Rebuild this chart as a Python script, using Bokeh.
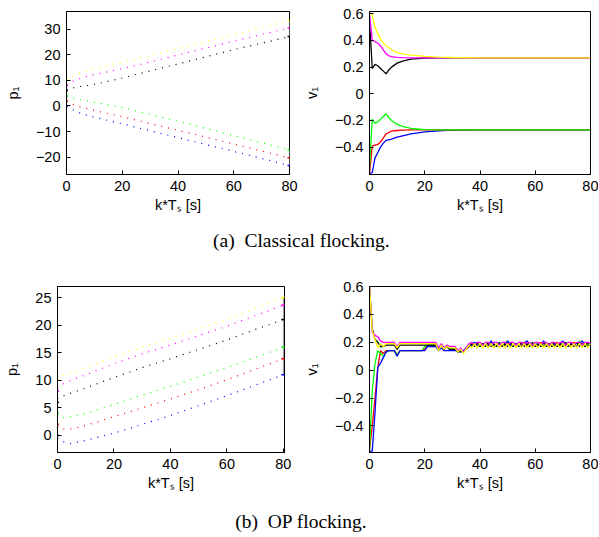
from bokeh.plotting import figure
from bokeh.models import Range1d, FixedTicker
from bokeh.layouts import column, row
from bokeh.embed import file_html
from bokeh.resources import INLINE
from bokeh.core.properties import value

# ---------------- data ----------------
agent_names = ["yellow", "magenta", "black", "green", "red", "blue"]
agent_colors = ["#ffff00", "#ff00ff", "#000000", "#00ff00", "#ff0000", "#0000ff"]
x_ticks = [0, 20, 40, 60, 80]
x_tick_labels = ["0", "20", "40", "60", "80"]
initial_pos = [10, 8, 6, 4, 2, 0]

# (a) Classical flocking: positions p1
t_pos_a = [0, 1, 5, 10, 20, 30, 40, 50, 60, 70, 80]
pos_a = {
    "yellow":  [10.2, 10.8, 12.9, 14.5, 17.1, 19.7, 22.4, 25.1, 27.8, 30.6, 33.4],
    "magenta": [8.3, 9.1, 10.8, 12.3, 14.5, 17.2, 19.9, 22.6, 25.3, 27.9, 30.5],
    "black":   [6.4, 6.8, 7.6, 8.4, 10.9, 13.7, 16.4, 19.2, 22.0, 24.5, 27.1],
    "green":   [3.6, 3.2, 2.4, 1.4, -0.6, -3.3, -6.0, -8.8, -11.6, -14.4, -17.2],
    "red":     [1.7, 1.1, -0.4, -1.8, -4.2, -6.9, -9.5, -12.2, -14.9, -17.6, -20.3],
    "blue":    [-0.3, -0.9, -2.9, -4.4, -7.0, -9.7, -12.4, -15.1, -17.8, -20.5, -23.3],
}
pos_a_yticks = [-20, -10, 0, 10, 20, 30]
pos_a_ylabels = ["\u221220", "\u221210", "0", "10", "20", "30"]

# (a) Classical flocking: velocities v1
t_vel_a = [0, 1, 2, 3, 4, 5, 6, 7, 8, 10, 12, 15, 20, 25, 30, 40, 80]
vel_a = {
    "yellow":  [0.60, 0.59, 0.50, 0.45, 0.41, 0.38, 0.36, 0.345, 0.33, 0.31, 0.30, 0.29, 0.28, 0.275, 0.272, 0.27, 0.27],
    "magenta": [0.60, 0.40, 0.39, 0.38, 0.36, 0.33, 0.30, 0.285, 0.278, 0.273, 0.271, 0.27, 0.27, 0.27, 0.27, 0.27, 0.27],
    "black":   [0.55, 0.19, 0.22, 0.21, 0.19, 0.17, 0.15, 0.18, 0.20, 0.23, 0.245, 0.26, 0.268, 0.27, 0.27, 0.27, 0.27],
    "green":   [-0.55, -0.19, -0.22, -0.21, -0.19, -0.17, -0.15, -0.18, -0.20, -0.23, -0.245, -0.26, -0.268, -0.27, -0.27, -0.27, -0.27],
    "red":     [-0.60, -0.39, -0.385, -0.38, -0.36, -0.33, -0.30, -0.29, -0.28, -0.275, -0.272, -0.27, -0.27, -0.27, -0.27, -0.27, -0.27],
    "blue":    [-0.60, -0.59, -0.48, -0.44, -0.40, -0.37, -0.35, -0.345, -0.34, -0.325, -0.315, -0.30, -0.285, -0.278, -0.273, -0.27, -0.27],
}
vel_yticks = [-0.4, -0.2, 0, 0.2, 0.4, 0.6]
vel_ylabels = ["\u22120.4", "\u22120.2", "0", "0.2", "0.4", "0.6"]

# (b) OP flocking: positions p1
t_pos_b = [0, 1, 5, 10, 20, 30, 40, 50, 60, 70, 80]
pos_b = {
    "yellow":  [10.2, 10.7, 11.3, 12.3, 14.2, 16.0, 17.6, 19.3, 21.0, 23.0, 25.0],
    "magenta": [8.6, 9.1, 10.0, 11.0, 13.0, 14.8, 16.4, 18.1, 19.8, 21.7, 23.6],
    "black":   [6.6, 7.0, 7.7, 8.6, 10.5, 12.3, 13.9, 15.6, 17.3, 19.2, 21.0],
    "green":   [3.8, 3.2, 3.4, 4.0, 5.6, 7.3, 8.9, 10.6, 12.3, 14.1, 16.0],
    "red":     [1.6, 1.1, 1.2, 1.8, 3.4, 5.0, 6.6, 8.3, 10.1, 12.0, 13.9],
    "blue":    [-0.5, -1.0, -1.5, -0.9, 0.4, 2.0, 3.6, 5.4, 7.2, 9.1, 11.0],
}
pos_b_yticks = [0, 5, 10, 15, 20, 25]
pos_b_ylabels = ["0", "5", "10", "15", "20", "25"]

# (b) OP flocking: velocities v1 (one sample per second)
t_vel_b = [0, 1, 2, 3, 4, 5, 6, 7, 8, 9, 10, 11, 12, 13, 14, 15, 16, 17, 18, 19, 20,
           21, 22, 23, 24, 25, 26, 27, 28, 29, 30, 31, 32, 33, 34, 35, 36, 37, 38, 39, 40,
           41, 42, 43, 44, 45, 46, 47, 48, 49, 50, 51, 52, 53, 54, 55, 56, 57, 58, 59, 60,
           61, 62, 63, 64, 65, 66, 67, 68, 69, 70, 71, 72, 73, 74, 75, 76, 77, 78, 79, 80]
vel_b = {
    "yellow": [0.60, 0.28, 0.22, 0.16, 0.19, 0.17, 0.19, 0.19, 0.19, 0.19, 0.16,
               0.19, 0.19, 0.19, 0.19, 0.19, 0.19, 0.19, 0.19, 0.19, 0.19,
               0.19, 0.19, 0.19, 0.19, 0.14, 0.18, 0.15, 0.17, 0.16, 0.16,
               0.16, 0.13, 0.15, 0.12, 0.15, 0.18, 0.16, 0.19, 0.16, 0.19,
               0.16, 0.19, 0.16, 0.19, 0.16, 0.19, 0.16, 0.19, 0.16, 0.19,
               0.16, 0.19, 0.16, 0.19, 0.16, 0.19, 0.16, 0.19, 0.16, 0.19,
               0.16, 0.19, 0.16, 0.19, 0.16, 0.19, 0.16, 0.19, 0.16, 0.19,
               0.16, 0.19, 0.16, 0.19, 0.16, 0.19, 0.16, 0.19, 0.16, 0.19],
    "magenta": [0.60, 0.27, 0.25, 0.24, 0.21, 0.20, 0.20, 0.20, 0.20, 0.20, 0.17,
                0.20, 0.20, 0.20, 0.20, 0.20, 0.20, 0.20, 0.20, 0.20, 0.20,
                0.20, 0.20, 0.20, 0.20, 0.16, 0.19, 0.16, 0.18, 0.17, 0.17,
                0.17, 0.14, 0.16, 0.13, 0.16, 0.19, 0.20, 0.18, 0.20, 0.20,
                0.18, 0.20, 0.20, 0.18, 0.20, 0.20, 0.18, 0.20, 0.20, 0.18,
                0.20, 0.20, 0.18, 0.20, 0.20, 0.18, 0.20, 0.20, 0.18, 0.20,
                0.20, 0.18, 0.20, 0.20, 0.18, 0.20, 0.20, 0.18, 0.20, 0.20,
                0.18, 0.20, 0.20, 0.18, 0.20, 0.20, 0.18, 0.20, 0.20, 0.19],
    "black": [0.60, 0.30, 0.22, 0.20, 0.17, 0.17, 0.18, 0.18, 0.18, 0.18, 0.15,
              0.18, 0.18, 0.18, 0.18, 0.18, 0.18, 0.18, 0.18, 0.18, 0.18,
              0.18, 0.18, 0.18, 0.18, 0.15, 0.18, 0.15, 0.17, 0.15, 0.15,
              0.15, 0.13, 0.14, 0.13, 0.15, 0.17, 0.19, 0.17, 0.20, 0.17,
              0.19, 0.17, 0.20, 0.17, 0.19, 0.17, 0.20, 0.17, 0.19, 0.17,
              0.20, 0.17, 0.19, 0.17, 0.20, 0.17, 0.19, 0.17, 0.20, 0.17,
              0.19, 0.17, 0.20, 0.17, 0.19, 0.17, 0.20, 0.17, 0.19, 0.17,
              0.20, 0.17, 0.19, 0.17, 0.20, 0.17, 0.19, 0.17, 0.20, 0.18],
    "green": [-0.57, -0.15, 0.05, 0.14, 0.12, 0.10, 0.13, 0.14, 0.14, 0.14, 0.11,
              0.14, 0.14, 0.14, 0.14, 0.14, 0.14, 0.14, 0.14, 0.14, 0.17,
              0.18, 0.18, 0.18, 0.18, 0.15, 0.18, 0.16, 0.18, 0.15, 0.15,
              0.15, 0.13, 0.15, 0.13, 0.16, 0.18, 0.17, 0.19, 0.18, 0.17,
              0.19, 0.18, 0.17, 0.19, 0.18, 0.17, 0.19, 0.18, 0.19, 0.21,
              0.18, 0.17, 0.19, 0.18, 0.17, 0.19, 0.21, 0.18, 0.17, 0.19,
              0.18, 0.17, 0.19, 0.18, 0.17, 0.19, 0.18, 0.17, 0.19, 0.20,
              0.18, 0.17, 0.19, 0.18, 0.17, 0.21, 0.18, 0.17, 0.19, 0.18],
    "red": [-0.57, -0.40, -0.20, 0.02, 0.14, 0.12, 0.14, 0.14, 0.14, 0.14, 0.11,
            0.14, 0.14, 0.14, 0.14, 0.14, 0.14, 0.14, 0.14, 0.14, 0.15,
            0.18, 0.18, 0.18, 0.18, 0.15, 0.18, 0.15, 0.17, 0.15, 0.15,
            0.15, 0.13, 0.14, 0.13, 0.15, 0.17, 0.18, 0.19, 0.17, 0.18,
            0.19, 0.17, 0.18, 0.20, 0.17, 0.18, 0.19, 0.17, 0.18, 0.20,
            0.17, 0.18, 0.19, 0.17, 0.18, 0.20, 0.17, 0.18, 0.19, 0.17,
            0.18, 0.20, 0.17, 0.18, 0.19, 0.17, 0.18, 0.20, 0.17, 0.18,
            0.19, 0.17, 0.18, 0.20, 0.17, 0.18, 0.19, 0.17, 0.18, 0.19],
    "blue": [-0.58, -0.58, -0.30, 0.02, 0.05, 0.09, 0.13, 0.14, 0.14, 0.14, 0.10,
             0.14, 0.14, 0.14, 0.14, 0.14, 0.14, 0.14, 0.14, 0.14, 0.14,
             0.17, 0.17, 0.17, 0.17, 0.14, 0.16, 0.14, 0.14, 0.14, 0.14,
             0.14, 0.14, 0.13, 0.14, 0.16, 0.17, 0.18, 0.20, 0.18, 0.17,
             0.19, 0.18, 0.17, 0.21, 0.18, 0.17, 0.19, 0.18, 0.18, 0.21,
             0.18, 0.17, 0.19, 0.18, 0.17, 0.19, 0.21, 0.18, 0.17, 0.19,
             0.18, 0.17, 0.21, 0.18, 0.17, 0.19, 0.18, 0.17, 0.19, 0.21,
             0.18, 0.17, 0.19, 0.18, 0.17, 0.19, 0.21, 0.18, 0.17, 0.19],
}

caption_a = "(a)\u00a0 Classical flocking."
caption_b = "(b)\u00a0 OP flocking."

# ---------------- styling helpers ----------------
SANS = "Liberation Sans"
SERIF = "Liberation Serif"
FS = "14.5px"


def make_panel(width, height, xr, yr, yticks, ylabels, ylabel, bl, br, bt, bb):
    p = figure(width=width, height=height, x_range=Range1d(*xr), y_range=Range1d(*yr),
               output_backend="svg", toolbar_location=None,
               min_border_left=bl, min_border_right=br, min_border_top=bt, min_border_bottom=bb)
    p.xgrid.visible = False
    p.ygrid.visible = False
    p.outline_line_color = "black"
    p.outline_line_alpha = 1
    p.outline_line_width = 1
    p.background_fill_color = "white"
    p.border_fill_color = "white"
    p.xaxis.ticker = FixedTicker(ticks=x_ticks)
    p.xaxis.major_label_overrides = dict(zip(x_ticks, x_tick_labels))
    p.yaxis.ticker = FixedTicker(ticks=yticks)
    p.yaxis.major_label_overrides = dict(zip(yticks, ylabels))
    p.xaxis.axis_label = "k*T\u209b [s]"
    p.yaxis.axis_label = ylabel
    for ax in (p.xaxis[0], p.yaxis[0]):
        ax.major_tick_in = 4
        ax.major_tick_out = 0
        ax.minor_tick_line_color = None
        ax.axis_line_color = "black"
        ax.major_tick_line_color = "black"
        ax.major_label_text_font = SANS
        ax.major_label_text_font_size = FS
        ax.major_label_text_color = "black"
        ax.axis_label_text_font = SANS
        ax.axis_label_text_font_size = FS
        ax.axis_label_text_font_style = "normal"
        ax.axis_label_text_color = "black"
    p.xaxis.major_label_standoff = 6
    p.xaxis.axis_label_standoff = 3
    p.yaxis.major_label_standoff = 6
    p.yaxis.axis_label_standoff = 12
    return p


def draw_positions(p, t, pos, end_groups):
    for name, col in zip(agent_names, agent_colors):
        p.line(t, pos[name], line_color=col, line_width=1.2, line_dash="1 6")
    for (lo, hi) in end_groups:
        p.line([t[-1], t[-1]], [pos[lo][-1], pos[hi][-1]], line_color="#999999", line_width=1)
    p.scatter([t[0]] * len(initial_pos), initial_pos, marker="dash", size=3,
              line_color=agent_colors, line_width=1.5)
    p.scatter([t[-1]] * len(agent_names), [pos[n][-1] for n in agent_names], marker="dash", size=4,
              line_color=agent_colors, line_width=1.5)


def draw_velocities(p, t, vel, order):
    for name in order:
        col = agent_colors[agent_names.index(name)]
        p.line(t, vel[name], line_color=col, line_width=1.3)


def make_caption(text, height, yfrac):
    c = figure(width=598, height=height, x_range=Range1d(0, 1), y_range=Range1d(0, 1),
               output_backend="svg", toolbar_location=None, x_axis_type=None, y_axis_type=None,
               min_border=0)
    c.grid.visible = False
    c.outline_line_color = None
    c.text(x=[0.503], y=[yfrac], text=[text], text_align="center", text_baseline="middle",
           text_font=value(SERIF), text_font_size="19.5px", text_color="black")
    return c


# ---------------- panels ----------------
f1 = make_panel(300, 222, (0, 80), (-26.8, 36.9), pos_a_yticks, pos_a_ylabels, "p\u2081", 66, 11, 11, 48)
draw_positions(f1, t_pos_a, pos_a, [("black", "yellow"), ("blue", "green")])

f2 = make_panel(298, 222, (0, 80), (-0.605, 0.617), vel_yticks, vel_ylabels, "v\u2081", 67, 8, 11, 48)
draw_velocities(f2, t_vel_a, vel_a, ["black", "magenta", "yellow", "blue", "red", "green"])

f3 = make_panel(300, 238, (0, 80.4), (-3.1, 27.0), pos_b_yticks, pos_b_ylabels, "p\u2081", 57, 16, 24, 48)
draw_positions(f3, t_pos_b, pos_b, [("blue", "yellow")])

f4 = make_panel(298, 238, (0, 80), (-0.59, 0.60), vel_yticks, vel_ylabels, "v\u2081", 63, 8, 24, 48)
draw_velocities(f4, t_vel_b, vel_b, ["red", "green", "blue", "black", "magenta", "yellow"])

cap_a = make_caption(caption_a, 40, 0.55)
cap_b = make_caption(caption_b, 36, 0.42)

layout = column(row(f1, f2), cap_a, row(f3, f4), cap_b)

open("out.html", "w").write(file_html(layout, INLINE))
